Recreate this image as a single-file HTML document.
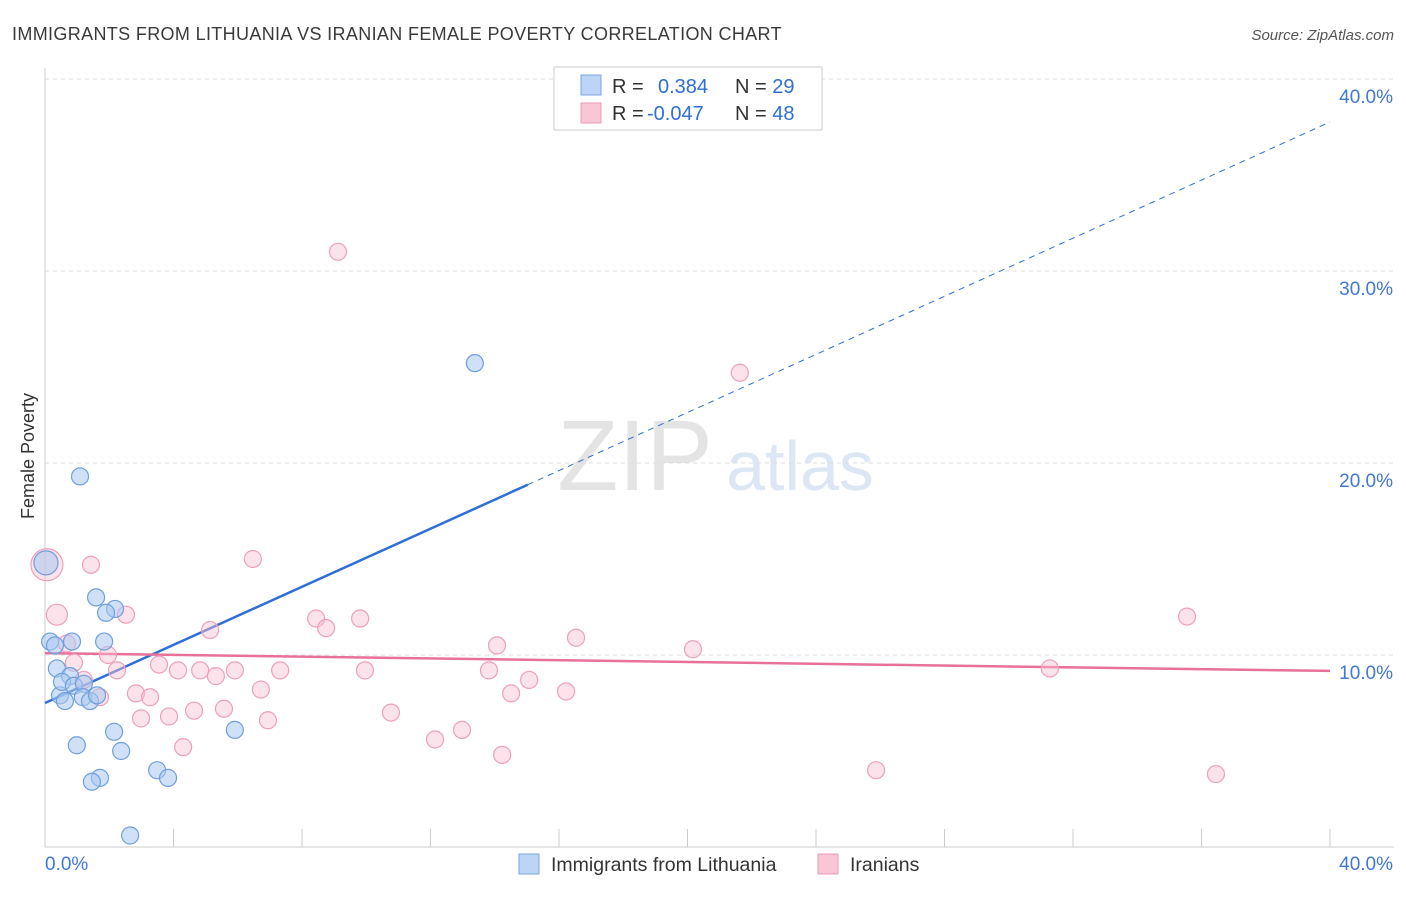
<!DOCTYPE html>
<html><head><meta charset="utf-8"><style>
body{margin:0;background:#fff;font-family:"Liberation Sans",sans-serif;}
svg text{font-family:"Liberation Sans",sans-serif;}
</style></head><body>
<svg width="1406" height="892" id="chart">
<text x="12" y="40" font-size="18" fill="#3a3a3a" letter-spacing="0.35">IMMIGRANTS FROM LITHUANIA VS IRANIAN FEMALE POVERTY CORRELATION CHART</text>
<text x="1394" y="40" font-size="15" fill="#555" font-style="italic" text-anchor="end">Source: ZipAtlas.com</text>
<text x="34" y="456" font-size="18" fill="#333" transform="rotate(-90 34 456)" text-anchor="middle">Female Poverty</text>
<text x="635" y="490" font-size="100" fill="#e4e4e4" font-family="Liberation Serif" text-anchor="middle">ZIP</text>
<text x="800" y="490" font-size="70" fill="#dce6f4" text-anchor="middle">atlas</text>
<g id="grid"></g><g id="trend"></g><g id="pts"></g>
<g>
<rect x="554" y="67" width="268" height="63" fill="#fff" stroke="#ccc"/>
<rect x="581" y="75" width="20" height="20" fill="#bcd4f5" stroke="#7aa6e0"/>
<rect x="581" y="103" width="20" height="20" fill="#f9c6d6" stroke="#e99ab4"/>
<text x="612" y="93" font-size="20" fill="#333">R = <tspan fill="#2f6fd6" x="658">0.384</tspan><tspan fill="#333" x="735">N = </tspan><tspan fill="#2f6fd6">29</tspan></text>
<text x="612" y="120" font-size="20" fill="#333">R = <tspan fill="#2f6fd6" x="647">-0.047</tspan><tspan fill="#333" x="735">N = </tspan><tspan fill="#2f6fd6">48</tspan></text>
</g>
<g>
<rect x="519" y="854" width="20" height="20" fill="#bcd4f5" stroke="#7aa6e0"/>
<text x="551" y="871" font-size="19.5" fill="#333">Immigrants from Lithuania</text>
<rect x="818" y="854" width="20" height="20" fill="#f9c6d6" stroke="#e99ab4"/>
<text x="850" y="871" font-size="19.5" fill="#333">Iranians</text>
</g>
</svg>
<script>
const yTicks=[10,20,30,40];
const xTickLabels=["0.0%","40.0%"];
const blueX=[0.03,0.16,0.31,0.84,0.37,0.47,0.62,0.78,0.53,0.9,1.21,1.18,1.4,1.62,1.09,1.59,2.18,1.9,1.84,0.99,2.15,2.37,1.71,1.46,3.49,3.83,2.65,5.91,13.38];
const blueY=[14.8,10.7,10.5,10.7,9.3,7.9,7.6,8.9,8.6,8.4,8.5,7.8,7.6,7.9,19.3,13.0,12.4,12.2,10.7,5.3,6.0,5.0,3.6,3.4,4.0,3.6,0.6,6.1,25.2];
const pinkX=[0.06,0.37,0.68,0.9,1.21,1.71,1.43,1.96,2.24,2.52,2.83,2.99,3.27,3.55,3.86,4.14,4.3,4.64,4.83,5.14,5.32,5.57,5.91,6.47,6.72,6.94,7.32,8.44,8.75,9.12,9.81,9.96,10.77,12.14,12.98,13.82,14.07,14.23,14.51,15.07,16.22,16.53,20.17,21.63,25.87,31.28,35.55,36.45];
const pinkY=[14.7,12.1,10.6,9.6,8.7,7.8,14.7,10.0,9.2,12.1,8.0,6.7,7.8,9.5,6.8,9.2,5.2,7.1,9.2,11.3,8.9,7.2,9.2,15.0,8.2,6.6,9.2,11.9,11.4,31.0,11.9,9.2,7.0,5.6,6.1,9.2,10.5,4.8,8.0,8.7,8.1,10.9,10.3,24.7,4.0,9.3,12.0,3.8];
const blueSize=[12].concat(Array(28).fill(8.5));
const pinkSize=[16,10.5].concat(Array(46).fill(8.5));
const blueLine=[7.5,37.76],bluesolidEnd=15.03;
const pinkLine=[10.1,9.17];
const X=v=>45+v*32.125, Y=v=>847-v*19.2;
const NS="http://www.w3.org/2000/svg";
function mk(t,a,p){const e=document.createElementNS(NS,t);for(const k in a)e.setAttribute(k,a[k]);p.appendChild(e);return e;}
const g=document.getElementById('grid');
let ax=mk('line',{x1:45,y1:68,x2:45,y2:847,stroke:'#ccc'},g);


let bx=mk('line',{x1:45,y1:847,x2:1394,y2:847,stroke:'#ccc'},g);


yTicks.forEach(t=>{
 const l=mk('line',{x1:45,x2:1394,y1:Y(t),y2:Y(t),stroke:'#ddd','stroke-dasharray':'4,4'},g);
 
 
 const tx=mk('text',{x:1393,y:Y(t)+24,'font-size':19,fill:'#3f78d8','text-anchor':'end'},g);tx.textContent=t.toFixed(1)+'%';
 
 
});
for(let i=0;i<=10;i++){const x=X(i*4);const l=mk('line',{x1:x,x2:x,y1:829,y2:847,stroke:'#ccc'},g);
 
 }
[[0,'start',45],[1,'end',1393]].forEach(([i,a,x])=>{const t=mk('text',{x:x,y:870,'font-size':19,fill:'#3f78d8','text-anchor':a},g);t.textContent=xTickLabels[i];
 
 });
const tr=document.getElementById('trend');
const by=v=>blueLine[0]+(blueLine[1]-blueLine[0])*v/40;
let l1=mk('line',{x1:X(0),y1:Y(by(0)),x2:X(bluesolidEnd),y2:Y(by(bluesolidEnd)),stroke:'#2f6fd6','stroke-width':2.5},tr);


let l2=mk('line',{x1:X(bluesolidEnd),y1:Y(by(bluesolidEnd)),x2:X(40),y2:Y(by(40)),stroke:'#2f6fd6','stroke-width':1,'stroke-dasharray':'6,5'},tr);


let l3=mk('line',{x1:X(0),y1:Y(pinkLine[0]),x2:X(40),y2:Y(pinkLine[1]),stroke:'#e8709a','stroke-width':2.5},tr);


const p=document.getElementById('pts');
pinkX.forEach((v,i)=>{const c=mk('circle',{cx:X(v),cy:Y(pinkY[i]),r:pinkSize[i],fill:'rgba(248,190,210,0.45)',stroke:'#eea0bb','stroke-width':1.2},p);
 
 });
blueX.forEach((v,i)=>{const c=mk('circle',{cx:X(v),cy:Y(blueY[i]),r:blueSize[i],fill:'rgba(170,200,240,0.55)',stroke:'#6f9fdc','stroke-width':1.2},p);
 
 });
</script>
</body></html>
